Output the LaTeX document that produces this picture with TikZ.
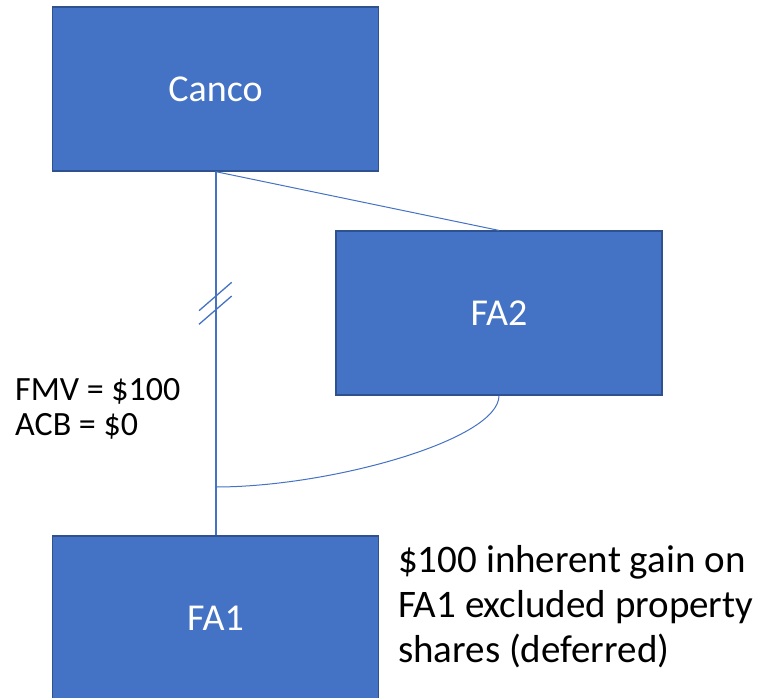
\documentclass[tikz,border=0pt]{standalone}
\usepackage{fontspec}
\setmainfont{Carlito}
\definecolor{boxfill}{HTML}{4472C4}
\definecolor{boxline}{HTML}{2F528F}
\begin{document}
\begin{tikzpicture}[x=1pt,y=-1pt,
  entity/.style={draw=boxline,line width=1.2pt,fill=boxfill,text=white,
    minimum width=326pt,minimum height=164pt,inner sep=0pt,
    font=\fontsize{38}{45}\selectfont},
  link/.style={draw=boxfill,line width=1pt},
  mainlink/.style={draw=boxfill,line width=2pt},
  note/.style={anchor=base west,align=left,inner sep=0pt,text=black}]
\useasboundingbox (0,0) rectangle (763,697);
\node[entity] (canco) at (215.5,89) {Canco};
\node[entity] (fa2) at (499,313) {FA2};
\node[entity] (fa1) at (215.5,618) {FA1};
\coordinate (join) at (canco.south |- 0,487);
\draw[mainlink] (canco.south) -- (fa1.north);
\draw[link] (canco.south) -- (fa2.north);
\draw[link] (fa2.south) .. controls (499,440) and (330,487) .. (join);
\coordinate (s1a) at (199,310.7); \coordinate (s1b) at (231.7,282.3);
\coordinate (s2a) at (199,324.3); \coordinate (s2b) at (231.7,296);
\draw[link,line width=1.3pt] (s1a) -- (s1b);
\draw[link,line width=1.3pt] (s2a) -- (s2b);
\node[note,font=\fontsize{34}{35}\selectfont] (val) at (15,435) {FMV = \$100\\ACB = \$0};
\node[note,font=\fontsize{39}{45}\selectfont] (gain) at (398,662) {\$100 inherent gain on\\FA1 excluded property\\shares (deferred)};
\end{tikzpicture}
\end{document}
